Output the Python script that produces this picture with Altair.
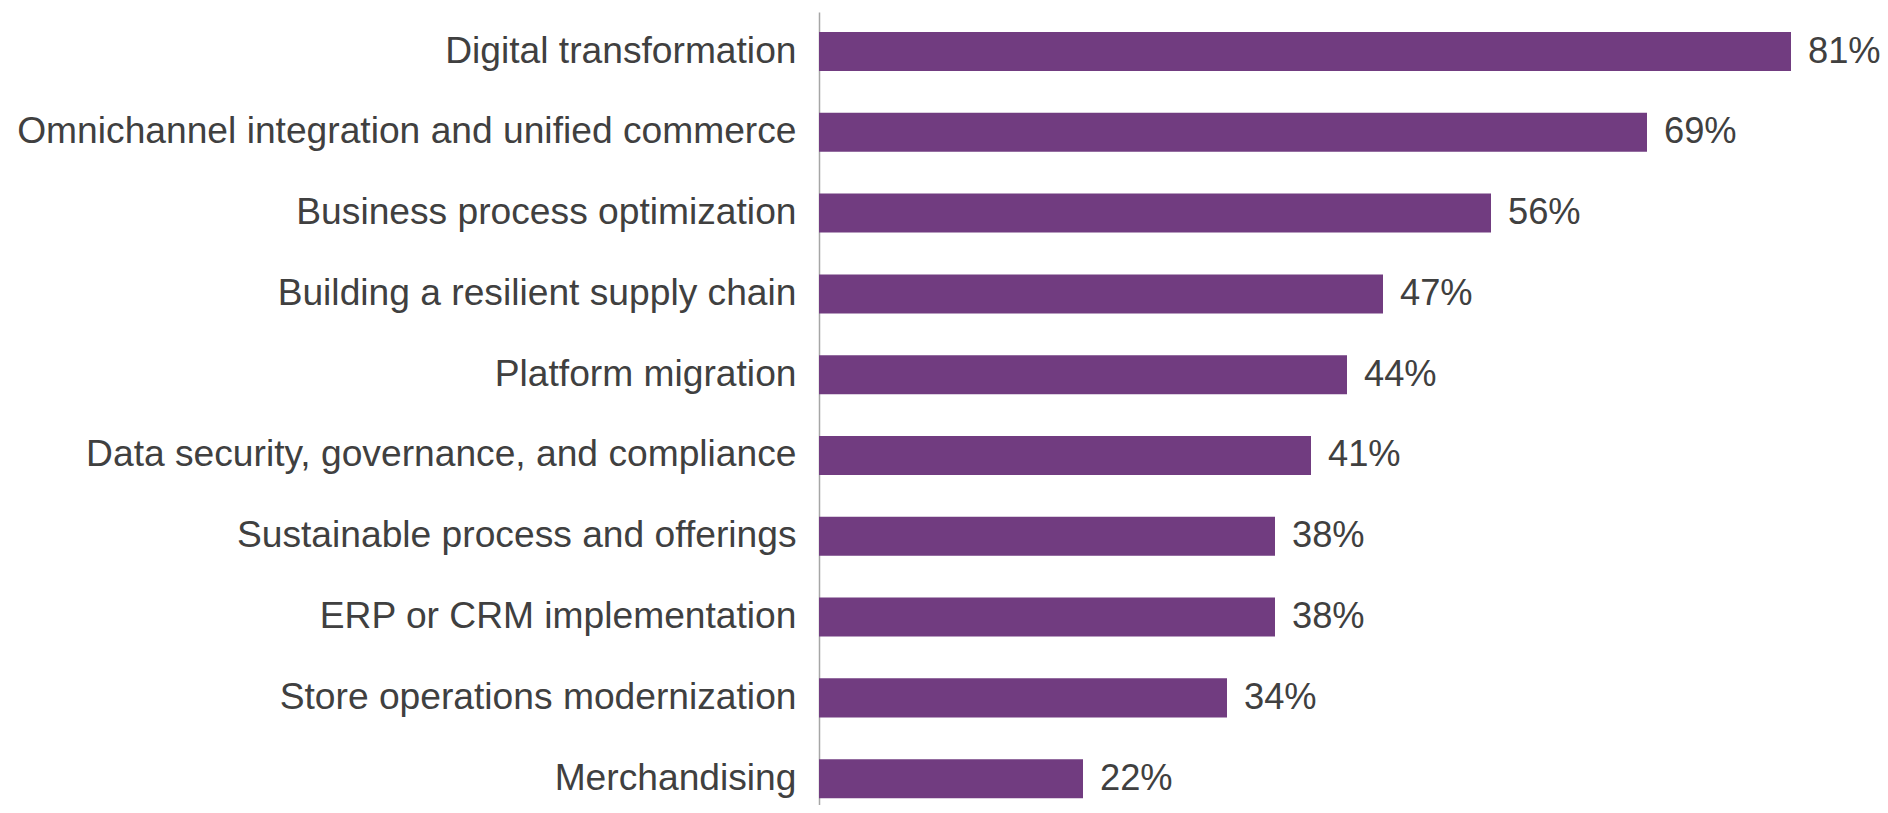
import altair as alt
import pandas as pd

categories = [
    "Digital transformation",
    "Omnichannel integration and unified commerce",
    "Business process optimization",
    "Building a resilient supply chain",
    "Platform migration",
    "Data security, governance, and compliance",
    "Sustainable process and offerings",
    "ERP or CRM implementation",
    "Store operations modernization",
    "Merchandising",
]
values = [81, 69, 56, 47, 44, 41, 38, 38, 34, 22]
labels = [f"{v}%" for v in values]

df = pd.DataFrame({"category": categories, "value": values, "label": labels})

FONT = "Liberation Sans"
TEXT_COLOR = "#404040"
FS = 37.2

y_enc = alt.Y(
    "category:N",
    sort=None,
    scale=alt.Scale(paddingInner=0.517, paddingOuter=0.166, align=0.746),
    axis=alt.Axis(
        title=None,
        ticks=False,
        grid=False,
        domain=True,
        domainColor="#a6a6a6",
        domainWidth=1.5,
        labelFont=FONT,
        labelFontSize=FS,
        labelColor=TEXT_COLOR,
        labelPadding=23,
        labelLimit=0,
    ),
)
x_enc = alt.X("value:Q", scale=alt.Scale(domain=[0, 84], nice=False), axis=None)

bars = alt.Chart(df).mark_bar(color="#713C80").encode(x=x_enc, y=y_enc)
text = alt.Chart(df).mark_text(
    align="left", baseline="middle", dx=17, font=FONT, fontSize=36.3, color=TEXT_COLOR
).encode(x=x_enc, y=y_enc, text="label:N")

chart = (
    alt.layer(bars, text)
    .properties(
        width=1008,
        height=793,
        autosize=alt.AutoSizeParams(type="none"),
        padding={"left": 811, "top": 4, "right": 53, "bottom": 0},
        background="white",
    )
    .configure_view(strokeWidth=0, stroke="transparent")
)

chart.save("out.html", embed_options={"renderer": "svg", "actions": False})
